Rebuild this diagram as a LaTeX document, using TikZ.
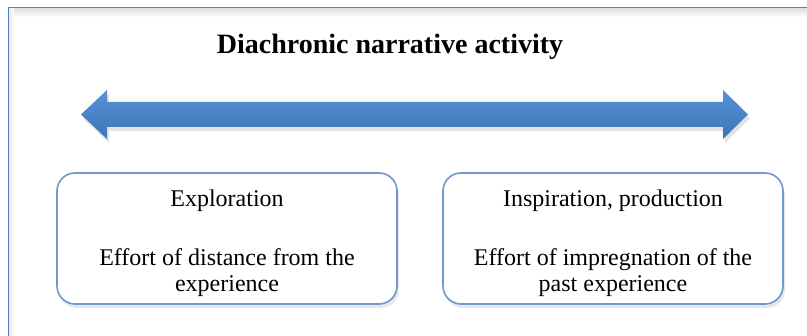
\documentclass[tikz,border=0pt]{standalone}
\usepackage{fontspec}
\setmainfont{Liberation Serif}
\usetikzlibrary{shadows}
\definecolor{framecol}{HTML}{4F81BD}
\definecolor{boxcol}{HTML}{6F98CC}
\definecolor{arrowtop}{HTML}{5592D5}
\definecolor{arrowbot}{HTML}{3D76B9}
\tikzset{x=0.5pt, y=-0.5pt, every node/.style={inner sep=2pt}}
\tikzset{stagebox/.style={draw=boxcol, line width=0.8pt, fill=white, rounded corners=9pt,
    minimum width=170pt, minimum height=65.5pt, align=center,
    font=\fontsize{12}{13}\selectfont,
    drop shadow={opacity=0.18, shadow xshift=1pt, shadow yshift=-2pt}},
  heading/.style={font=\bfseries\fontsize{14}{16}\selectfont}}
\newcommand{\topgap}{\rule{0pt}{13.5pt}}

\begin{document}
\begin{tikzpicture}
   \useasboundingbox (0,0) rectangle (807,336);
   \clip (0,0) rectangle (807,336);
   % frame
   \shade[top color=black!13, bottom color=white] (9,8) rectangle (807,17);
   \shade[left color=black!8, right color=white] (9,8) rectangle (14,336);
   \draw[framecol, line width=0.8pt] (8.5,340) -- (8.5,7.5) -- (810,7.5);
   \node[heading] (title) at (390,47) {Diachronic narrative activity};
   % double arrow
   \shade[top color=arrowtop, bottom color=arrowbot,
     drop shadow={opacity=0.22, shadow xshift=1pt, shadow yshift=-2pt}]
     (81,114.5) -- (107,90) -- (107,102) -- (723,102) -- (723,90) -- (748,114.5)
     -- (723,139) -- (723,127) -- (107,127) -- (107,139) -- cycle;
   \node[stagebox] (explore) at (227,238.5)
     {\topgap Exploration\\[16.5pt]Effort of distance from the\\experience};
   \node[stagebox] (inspire) at (613,238.5)
     {\topgap Inspiration, production\\[16.5pt]Effort of impregnation of the\\past experience};
  \end{tikzpicture}
\end{document}
